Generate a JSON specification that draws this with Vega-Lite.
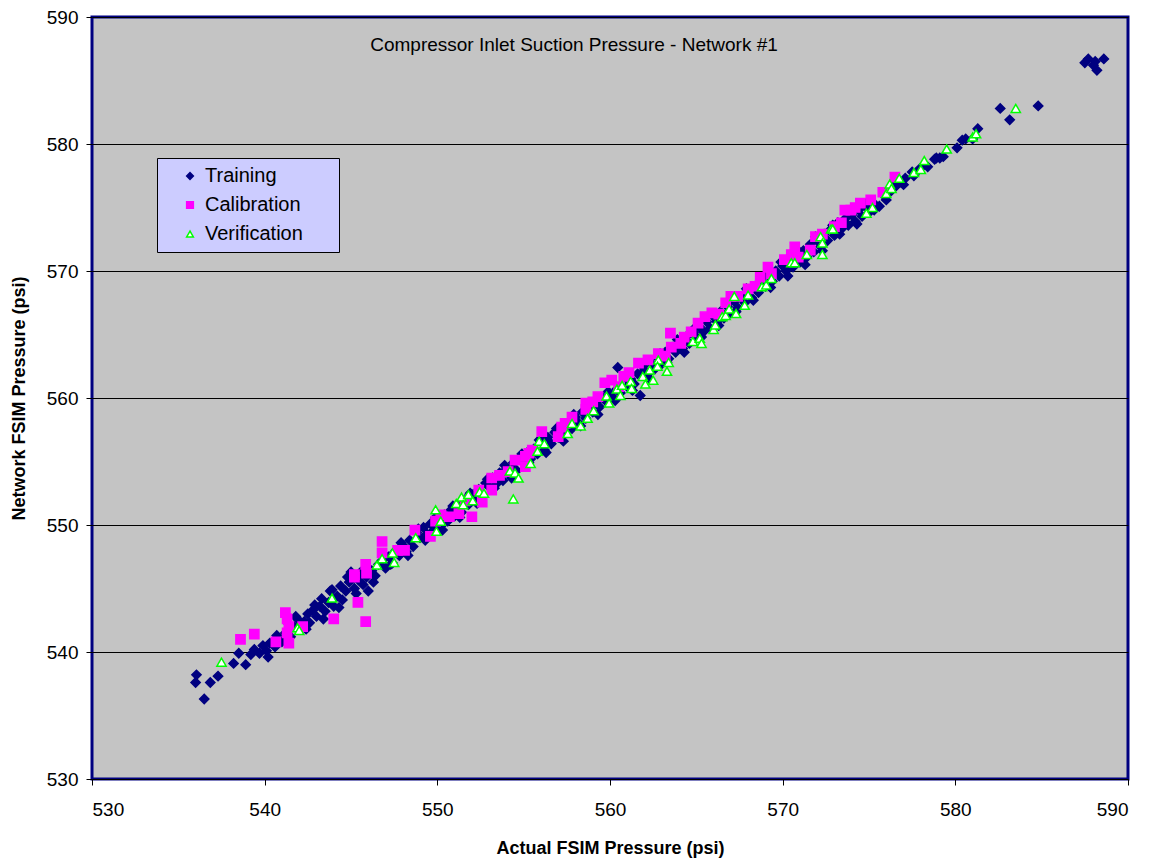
{
"$schema": "https://vega.github.io/schema/vega-lite/v6.json",
"autosize": "none",
"width": 1036,
"height": 762,
"padding": {"left": 92, "top": 17, "right": 21, "bottom": 82},
"background": "white",
"config": {
  "font": "Liberation Sans",
  "view": {"fill": "#C4C4C4", "stroke": "#000080", "strokeWidth": 3},
  "axis": {"labelFont": "Liberation Sans", "titleFont": "Liberation Sans", "labelColor": "#000", "titleColor": "#000", "tickColor": "#000", "domain": false}
},
"title": {"text": "Compressor Inlet Suction Pressure - Network #1", "font": "Liberation Sans", "fontSize": 19, "fontWeight": "normal", "color": "#000", "anchor": "middle", "frame": "group", "dx": -36, "dy": 51},
"data": {"values": [
{"x":536.0,"y":537.6,"s":"T"},{"x":536.05,"y":538.2,"s":"T"},{"x":536.5,"y":536.3,"s":"T"},{"x":536.85,"y":537.6,"s":"T"},{"x":537.3,"y":538.1,"s":"T"},{"x":538.2,"y":539.1,"s":"T"},{"x":538.5,"y":539.9,"s":"T"},{"x":538.9,"y":539.0,"s":"T"},{"x":539.2,"y":539.8,"s":"T"},{"x":539.4,"y":540.2,"s":"T"},{"x":539.7,"y":539.9,"s":"T"},{"x":539.9,"y":540.5,"s":"T"},{"x":540.1,"y":540.1,"s":"T"},{"x":540.2,"y":539.6,"s":"T"},{"x":540.3,"y":540.7,"s":"T"},{"x":540.6,"y":540.4,"s":"T"},{"x":540.7,"y":541.3,"s":"T"},{"x":540.8,"y":541.0,"s":"T"},{"x":541.0,"y":540.8,"s":"T"},{"x":541.2,"y":541.5,"s":"T"},{"x":541.3,"y":540.9,"s":"T"},{"x":541.4,"y":542.2,"s":"T"},{"x":541.5,"y":541.2,"s":"T"},{"x":541.7,"y":542.0,"s":"T"},{"x":541.8,"y":542.8,"s":"T"},{"x":541.9,"y":542.6,"s":"T"},{"x":542.1,"y":541.9,"s":"T"},{"x":542.3,"y":542.4,"s":"T"},{"x":542.4,"y":541.8,"s":"T"},{"x":542.5,"y":543.0,"s":"T"},{"x":542.6,"y":542.3,"s":"T"},{"x":542.8,"y":543.3,"s":"T"},{"x":542.9,"y":543.7,"s":"T"},{"x":543.0,"y":542.8,"s":"T"},{"x":543.2,"y":543.6,"s":"T"},{"x":543.3,"y":544.2,"s":"T"},{"x":543.4,"y":542.6,"s":"T"},{"x":543.5,"y":543.2,"s":"T"},{"x":543.7,"y":543.9,"s":"T"},{"x":543.8,"y":544.8,"s":"T"},{"x":543.9,"y":544.9,"s":"T"},{"x":544.0,"y":543.6,"s":"T"},{"x":544.2,"y":544.4,"s":"T"},{"x":544.3,"y":543.5,"s":"T"},{"x":544.4,"y":545.2,"s":"T"},{"x":544.5,"y":544.1,"s":"T"},{"x":544.7,"y":544.8,"s":"T"},{"x":544.8,"y":545.9,"s":"T"},{"x":544.9,"y":545.5,"s":"T"},{"x":545.0,"y":546.3,"s":"T"},{"x":545.2,"y":545.0,"s":"T"},{"x":545.3,"y":544.6,"s":"T"},{"x":545.4,"y":545.7,"s":"T"},{"x":545.5,"y":546.2,"s":"T"},{"x":545.7,"y":545.3,"s":"T"},{"x":545.8,"y":546.6,"s":"T"},{"x":545.9,"y":545.9,"s":"T"},{"x":546.0,"y":544.8,"s":"T"},{"x":546.2,"y":546.4,"s":"T"},{"x":546.3,"y":545.5,"s":"T"},{"x":546.4,"y":546.0,"s":"T"},{"x":546.6,"y":546.9,"s":"T"},{"x":546.8,"y":547.2,"s":"T"},{"x":546.9,"y":547.7,"s":"T"},{"x":547.0,"y":546.6,"s":"T"},{"x":547.2,"y":547.5,"s":"T"},{"x":547.3,"y":546.9,"s":"T"},{"x":547.4,"y":547.0,"s":"T"},{"x":547.6,"y":548.0,"s":"T"},{"x":547.8,"y":547.6,"s":"T"},{"x":547.9,"y":548.6,"s":"T"},{"x":548.0,"y":548.4,"s":"T"},{"x":548.2,"y":547.9,"s":"T"},{"x":548.3,"y":547.6,"s":"T"},{"x":548.4,"y":548.8,"s":"T"},{"x":548.6,"y":548.3,"s":"T"},{"x":548.8,"y":549.4,"s":"T"},{"x":548.9,"y":549.7,"s":"T"},{"x":549.0,"y":549.0,"s":"T"},{"x":549.2,"y":549.8,"s":"T"},{"x":549.3,"y":548.8,"s":"T"},{"x":549.4,"y":549.3,"s":"T"},{"x":549.6,"y":550.1,"s":"T"},{"x":549.8,"y":549.6,"s":"T"},{"x":549.9,"y":550.6,"s":"T"},{"x":550.0,"y":550.4,"s":"T"},{"x":550.2,"y":549.9,"s":"T"},{"x":550.3,"y":549.6,"s":"T"},{"x":550.4,"y":550.8,"s":"T"},{"x":550.6,"y":550.3,"s":"T"},{"x":550.8,"y":551.2,"s":"T"},{"x":550.9,"y":551.5,"s":"T"},{"x":551.0,"y":550.7,"s":"T"},{"x":551.2,"y":551.5,"s":"T"},{"x":551.3,"y":550.6,"s":"T"},{"x":551.4,"y":551.0,"s":"T"},{"x":551.6,"y":552.0,"s":"T"},{"x":551.8,"y":551.6,"s":"T"},{"x":551.9,"y":552.5,"s":"T"},{"x":552.0,"y":552.4,"s":"T"},{"x":552.2,"y":551.9,"s":"T"},{"x":552.3,"y":551.7,"s":"T"},{"x":552.4,"y":552.8,"s":"T"},{"x":552.6,"y":552.3,"s":"T"},{"x":552.8,"y":553.3,"s":"T"},{"x":552.9,"y":553.6,"s":"T"},{"x":553.0,"y":553.0,"s":"T"},{"x":553.2,"y":553.7,"s":"T"},{"x":553.3,"y":552.9,"s":"T"},{"x":553.4,"y":553.2,"s":"T"},{"x":553.6,"y":554.1,"s":"T"},{"x":553.8,"y":553.5,"s":"T"},{"x":553.9,"y":554.7,"s":"T"},{"x":554.0,"y":554.4,"s":"T"},{"x":554.2,"y":554.0,"s":"T"},{"x":554.3,"y":553.7,"s":"T"},{"x":554.4,"y":554.9,"s":"T"},{"x":554.6,"y":554.3,"s":"T"},{"x":554.8,"y":555.3,"s":"T"},{"x":554.9,"y":555.6,"s":"T"},{"x":555.0,"y":554.9,"s":"T"},{"x":555.2,"y":555.7,"s":"T"},{"x":555.3,"y":554.9,"s":"T"},{"x":555.4,"y":555.2,"s":"T"},{"x":555.6,"y":556.0,"s":"T"},{"x":555.8,"y":555.6,"s":"T"},{"x":555.9,"y":556.7,"s":"T"},{"x":556.0,"y":556.6,"s":"T"},{"x":556.2,"y":555.9,"s":"T"},{"x":556.3,"y":555.7,"s":"T"},{"x":556.4,"y":556.9,"s":"T"},{"x":556.6,"y":556.4,"s":"T"},{"x":556.8,"y":557.3,"s":"T"},{"x":556.9,"y":557.6,"s":"T"},{"x":557.0,"y":556.9,"s":"T"},{"x":557.2,"y":557.7,"s":"T"},{"x":557.3,"y":556.6,"s":"T"},{"x":557.4,"y":557.3,"s":"T"},{"x":557.6,"y":558.1,"s":"T"},{"x":557.8,"y":557.6,"s":"T"},{"x":557.9,"y":558.7,"s":"T"},{"x":558.0,"y":558.5,"s":"T"},{"x":558.2,"y":558.0,"s":"T"},{"x":558.3,"y":557.8,"s":"T"},{"x":558.4,"y":558.9,"s":"T"},{"x":558.6,"y":558.4,"s":"T"},{"x":558.8,"y":559.3,"s":"T"},{"x":558.9,"y":559.6,"s":"T"},{"x":559.0,"y":558.9,"s":"T"},{"x":559.2,"y":559.7,"s":"T"},{"x":559.3,"y":558.7,"s":"T"},{"x":559.4,"y":559.3,"s":"T"},{"x":559.6,"y":560.0,"s":"T"},{"x":559.8,"y":559.7,"s":"T"},{"x":559.9,"y":560.5,"s":"T"},{"x":560.0,"y":560.3,"s":"T"},{"x":560.2,"y":560.0,"s":"T"},{"x":560.3,"y":559.8,"s":"T"},{"x":560.4,"y":560.7,"s":"T"},{"x":560.45,"y":562.4,"s":"T"},{"x":560.6,"y":560.4,"s":"T"},{"x":560.9,"y":561.6,"s":"T"},{"x":561.0,"y":560.9,"s":"T"},{"x":561.2,"y":561.5,"s":"T"},{"x":561.3,"y":560.6,"s":"T"},{"x":561.4,"y":561.1,"s":"T"},{"x":561.6,"y":561.9,"s":"T"},{"x":561.75,"y":560.2,"s":"T"},{"x":561.9,"y":562.5,"s":"T"},{"x":562.0,"y":562.2,"s":"T"},{"x":562.2,"y":561.9,"s":"T"},{"x":562.3,"y":561.5,"s":"T"},{"x":562.4,"y":562.7,"s":"T"},{"x":562.6,"y":562.3,"s":"T"},{"x":562.8,"y":563.1,"s":"T"},{"x":562.9,"y":563.5,"s":"T"},{"x":563.0,"y":562.7,"s":"T"},{"x":563.2,"y":563.6,"s":"T"},{"x":563.3,"y":562.8,"s":"T"},{"x":563.4,"y":563.1,"s":"T"},{"x":563.6,"y":564.0,"s":"T"},{"x":563.8,"y":563.6,"s":"T"},{"x":563.9,"y":564.6,"s":"T"},{"x":564.0,"y":564.4,"s":"T"},{"x":564.2,"y":563.9,"s":"T"},{"x":564.3,"y":563.6,"s":"T"},{"x":564.4,"y":564.8,"s":"T"},{"x":564.6,"y":564.3,"s":"T"},{"x":564.8,"y":565.2,"s":"T"},{"x":564.9,"y":565.5,"s":"T"},{"x":565.0,"y":564.8,"s":"T"},{"x":565.2,"y":565.6,"s":"T"},{"x":565.3,"y":564.8,"s":"T"},{"x":565.4,"y":565.2,"s":"T"},{"x":565.6,"y":566.0,"s":"T"},{"x":565.8,"y":565.5,"s":"T"},{"x":565.9,"y":566.6,"s":"T"},{"x":566.0,"y":566.4,"s":"T"},{"x":566.2,"y":566.0,"s":"T"},{"x":566.3,"y":565.7,"s":"T"},{"x":566.4,"y":566.8,"s":"T"},{"x":566.6,"y":566.3,"s":"T"},{"x":566.8,"y":567.2,"s":"T"},{"x":566.9,"y":567.6,"s":"T"},{"x":567.0,"y":566.7,"s":"T"},{"x":567.2,"y":567.6,"s":"T"},{"x":567.3,"y":566.8,"s":"T"},{"x":567.4,"y":567.1,"s":"T"},{"x":567.6,"y":568.0,"s":"T"},{"x":567.8,"y":567.5,"s":"T"},{"x":567.9,"y":568.6,"s":"T"},{"x":568.0,"y":568.4,"s":"T"},{"x":568.2,"y":567.9,"s":"T"},{"x":568.3,"y":567.7,"s":"T"},{"x":568.4,"y":568.8,"s":"T"},{"x":568.6,"y":568.3,"s":"T"},{"x":568.8,"y":569.2,"s":"T"},{"x":568.9,"y":569.6,"s":"T"},{"x":569.0,"y":568.8,"s":"T"},{"x":569.2,"y":569.6,"s":"T"},{"x":569.3,"y":568.7,"s":"T"},{"x":569.4,"y":569.2,"s":"T"},{"x":569.6,"y":570.0,"s":"T"},{"x":569.8,"y":569.6,"s":"T"},{"x":569.9,"y":570.7,"s":"T"},{"x":570.0,"y":570.4,"s":"T"},{"x":570.2,"y":570.0,"s":"T"},{"x":570.3,"y":569.6,"s":"T"},{"x":570.4,"y":570.8,"s":"T"},{"x":570.6,"y":570.3,"s":"T"},{"x":570.8,"y":571.2,"s":"T"},{"x":570.9,"y":571.6,"s":"T"},{"x":571.0,"y":570.7,"s":"T"},{"x":571.2,"y":571.6,"s":"T"},{"x":571.3,"y":570.5,"s":"T"},{"x":571.4,"y":571.1,"s":"T"},{"x":571.6,"y":572.1,"s":"T"},{"x":571.8,"y":571.5,"s":"T"},{"x":571.9,"y":572.7,"s":"T"},{"x":572.0,"y":572.4,"s":"T"},{"x":572.2,"y":571.9,"s":"T"},{"x":572.3,"y":571.6,"s":"T"},{"x":572.4,"y":572.9,"s":"T"},{"x":572.6,"y":572.4,"s":"T"},{"x":572.8,"y":573.3,"s":"T"},{"x":572.9,"y":573.6,"s":"T"},{"x":573.0,"y":572.8,"s":"T"},{"x":573.2,"y":573.8,"s":"T"},{"x":573.3,"y":572.9,"s":"T"},{"x":573.4,"y":573.3,"s":"T"},{"x":573.6,"y":574.1,"s":"T"},{"x":573.8,"y":573.6,"s":"T"},{"x":573.9,"y":574.5,"s":"T"},{"x":574.0,"y":574.4,"s":"T"},{"x":574.2,"y":573.9,"s":"T"},{"x":574.3,"y":573.7,"s":"T"},{"x":574.4,"y":574.8,"s":"T"},{"x":574.6,"y":574.3,"s":"T"},{"x":574.8,"y":575.1,"s":"T"},{"x":574.9,"y":575.4,"s":"T"},{"x":575.0,"y":574.6,"s":"T"},{"x":575.3,"y":575.3,"s":"T"},{"x":575.3,"y":574.8,"s":"T"},{"x":575.6,"y":575.1,"s":"T"},{"x":575.9,"y":575.9,"s":"T"},{"x":576.0,"y":575.6,"s":"T"},{"x":576.2,"y":576.2,"s":"T"},{"x":576.4,"y":576.9,"s":"T"},{"x":576.5,"y":576.6,"s":"T"},{"x":576.8,"y":577.0,"s":"T"},{"x":577.0,"y":576.8,"s":"T"},{"x":577.1,"y":577.3,"s":"T"},{"x":577.5,"y":577.8,"s":"T"},{"x":577.6,"y":577.5,"s":"T"},{"x":577.9,"y":578.0,"s":"T"},{"x":578.2,"y":578.4,"s":"T"},{"x":578.4,"y":578.2,"s":"T"},{"x":578.8,"y":578.8,"s":"T"},{"x":578.9,"y":578.9,"s":"T"},{"x":579.1,"y":578.9,"s":"T"},{"x":579.3,"y":579.0,"s":"T"},{"x":580.1,"y":579.7,"s":"T"},{"x":580.4,"y":580.3,"s":"T"},{"x":580.6,"y":580.4,"s":"T"},{"x":581.0,"y":580.4,"s":"T"},{"x":581.3,"y":581.2,"s":"T"},{"x":582.6,"y":582.8,"s":"T"},{"x":583.15,"y":581.9,"s":"T"},{"x":584.8,"y":583.0,"s":"T"},{"x":587.5,"y":586.4,"s":"T"},{"x":587.7,"y":586.7,"s":"T"},{"x":588.0,"y":586.2,"s":"T"},{"x":588.2,"y":585.8,"s":"T"},{"x":588.6,"y":586.7,"s":"T"},{"x":588.1,"y":586.5,"s":"T"},
{"x":538.6,"y":541.0,"s":"C"},{"x":539.4,"y":541.4,"s":"C"},{"x":540.65,"y":540.8,"s":"C"},{"x":541.2,"y":543.1,"s":"C"},{"x":541.3,"y":542.6,"s":"C"},{"x":541.4,"y":542.0,"s":"C"},{"x":541.3,"y":541.5,"s":"C"},{"x":541.4,"y":540.7,"s":"C"},{"x":542.2,"y":542.0,"s":"C"},{"x":544.0,"y":542.6,"s":"C"},{"x":545.4,"y":543.9,"s":"C"},{"x":545.85,"y":542.4,"s":"C"},{"x":545.2,"y":546.1,"s":"C"},{"x":545.2,"y":545.9,"s":"C"},{"x":545.85,"y":546.9,"s":"C"},{"x":545.9,"y":546.2,"s":"C"},{"x":546.8,"y":548.7,"s":"C"},{"x":546.8,"y":547.8,"s":"C"},{"x":547.7,"y":548.0,"s":"C"},{"x":548.1,"y":548.0,"s":"C"},{"x":548.7,"y":549.6,"s":"C"},{"x":549.6,"y":549.1,"s":"C"},{"x":549.9,"y":550.3,"s":"C"},{"x":550.2,"y":550.8,"s":"C"},{"x":550.7,"y":550.65,"s":"C"},{"x":551.25,"y":550.9,"s":"C"},{"x":551.6,"y":551.9,"s":"C"},{"x":552.0,"y":550.65,"s":"C"},{"x":552.4,"y":552.75,"s":"C"},{"x":552.6,"y":551.8,"s":"C"},{"x":553.15,"y":553.7,"s":"C"},{"x":553.15,"y":552.75,"s":"C"},{"x":553.6,"y":553.9,"s":"C"},{"x":554.1,"y":554.2,"s":"C"},{"x":554.5,"y":555.1,"s":"C"},{"x":555.1,"y":554.6,"s":"C"},{"x":555.1,"y":555.4,"s":"C"},{"x":555.3,"y":555.65,"s":"C"},{"x":555.5,"y":555.9,"s":"C"},{"x":556.05,"y":557.35,"s":"C"},{"x":557.0,"y":556.95,"s":"C"},{"x":557.2,"y":557.7,"s":"C"},{"x":557.4,"y":558.0,"s":"C"},{"x":557.8,"y":558.5,"s":"C"},{"x":558.6,"y":559.6,"s":"C"},{"x":558.6,"y":559.1,"s":"C"},{"x":559.0,"y":559.7,"s":"C"},{"x":559.3,"y":560.1,"s":"C"},{"x":559.7,"y":561.2,"s":"C"},{"x":560.1,"y":561.4,"s":"C"},{"x":560.5,"y":560.9,"s":"C"},{"x":560.8,"y":561.7,"s":"C"},{"x":561.1,"y":562.0,"s":"C"},{"x":561.65,"y":562.75,"s":"C"},{"x":562.2,"y":563.0,"s":"C"},{"x":562.8,"y":563.5,"s":"C"},{"x":563.2,"y":563.3,"s":"C"},{"x":563.5,"y":565.1,"s":"C"},{"x":563.55,"y":564.0,"s":"C"},{"x":564.1,"y":564.3,"s":"C"},{"x":564.3,"y":564.8,"s":"C"},{"x":564.7,"y":565.2,"s":"C"},{"x":565.1,"y":565.9,"s":"C"},{"x":565.5,"y":566.4,"s":"C"},{"x":565.9,"y":566.7,"s":"C"},{"x":566.3,"y":566.6,"s":"C"},{"x":566.7,"y":567.5,"s":"C"},{"x":567.0,"y":568.0,"s":"C"},{"x":567.4,"y":568.0,"s":"C"},{"x":568.0,"y":568.6,"s":"C"},{"x":568.4,"y":568.8,"s":"C"},{"x":568.7,"y":569.5,"s":"C"},{"x":569.15,"y":570.3,"s":"C"},{"x":569.35,"y":569.8,"s":"C"},{"x":570.1,"y":570.9,"s":"C"},{"x":570.5,"y":571.3,"s":"C"},{"x":570.7,"y":571.9,"s":"C"},{"x":570.9,"y":571.1,"s":"C"},{"x":571.6,"y":571.65,"s":"C"},{"x":571.9,"y":572.7,"s":"C"},{"x":572.3,"y":572.9,"s":"C"},{"x":573.0,"y":573.5,"s":"C"},{"x":573.4,"y":573.8,"s":"C"},{"x":573.6,"y":574.8,"s":"C"},{"x":573.95,"y":574.8,"s":"C"},{"x":574.2,"y":575.0,"s":"C"},{"x":574.5,"y":575.35,"s":"C"},{"x":575.1,"y":575.6,"s":"C"},{"x":575.8,"y":576.2,"s":"C"},{"x":576.5,"y":577.4,"s":"C"},
{"x":537.5,"y":539.2,"s":"V"},{"x":541.9,"y":541.9,"s":"V"},{"x":542.0,"y":541.7,"s":"V"},{"x":543.9,"y":544.25,"s":"V"},{"x":546.5,"y":546.85,"s":"V"},{"x":546.8,"y":547.35,"s":"V"},{"x":547.4,"y":547.8,"s":"V"},{"x":547.5,"y":547.05,"s":"V"},{"x":548.75,"y":549.0,"s":"V"},{"x":549.9,"y":551.2,"s":"V"},{"x":549.95,"y":549.5,"s":"V"},{"x":550.2,"y":550.3,"s":"V"},{"x":551.1,"y":551.7,"s":"V"},{"x":551.4,"y":552.2,"s":"V"},{"x":551.5,"y":551.6,"s":"V"},{"x":551.8,"y":552.4,"s":"V"},{"x":552.05,"y":551.9,"s":"V"},{"x":552.45,"y":552.6,"s":"V"},{"x":552.7,"y":552.5,"s":"V"},{"x":554.4,"y":552.05,"s":"V"},{"x":554.2,"y":554.25,"s":"V"},{"x":554.5,"y":554.1,"s":"V"},{"x":554.7,"y":553.7,"s":"V"},{"x":555.4,"y":554.85,"s":"V"},{"x":555.8,"y":555.8,"s":"V"},{"x":555.9,"y":556.6,"s":"V"},{"x":556.2,"y":556.4,"s":"V"},{"x":557.55,"y":557.2,"s":"V"},{"x":557.8,"y":558.0,"s":"V"},{"x":558.3,"y":557.8,"s":"V"},{"x":558.7,"y":558.4,"s":"V"},{"x":559.05,"y":559.0,"s":"V"},{"x":559.8,"y":560.15,"s":"V"},{"x":559.95,"y":559.6,"s":"V"},{"x":560.4,"y":560.7,"s":"V"},{"x":560.6,"y":560.2,"s":"V"},{"x":560.7,"y":561.0,"s":"V"},{"x":561.2,"y":561.3,"s":"V"},{"x":561.25,"y":560.75,"s":"V"},{"x":561.9,"y":561.7,"s":"V"},{"x":562.05,"y":561.1,"s":"V"},{"x":562.3,"y":562.2,"s":"V"},{"x":562.5,"y":561.4,"s":"V"},{"x":562.8,"y":563.0,"s":"V"},{"x":562.75,"y":562.5,"s":"V"},{"x":563.3,"y":562.1,"s":"V"},{"x":563.4,"y":562.8,"s":"V"},{"x":564.8,"y":564.45,"s":"V"},{"x":565.2,"y":564.7,"s":"V"},{"x":565.3,"y":564.3,"s":"V"},{"x":566.0,"y":565.4,"s":"V"},{"x":566.1,"y":565.75,"s":"V"},{"x":566.5,"y":566.4,"s":"V"},{"x":566.7,"y":566.5,"s":"V"},{"x":566.9,"y":567.0,"s":"V"},{"x":567.3,"y":566.65,"s":"V"},{"x":567.2,"y":568.0,"s":"V"},{"x":567.8,"y":567.3,"s":"V"},{"x":568.0,"y":568.1,"s":"V"},{"x":568.8,"y":568.75,"s":"V"},{"x":569.05,"y":568.9,"s":"V"},{"x":569.35,"y":569.4,"s":"V"},{"x":570.5,"y":570.65,"s":"V"},{"x":570.7,"y":570.65,"s":"V"},{"x":571.4,"y":571.3,"s":"V"},{"x":572.3,"y":571.3,"s":"V"},{"x":572.2,"y":572.7,"s":"V"},{"x":572.3,"y":572.2,"s":"V"},{"x":572.8,"y":573.3,"s":"V"},{"x":572.9,"y":573.3,"s":"V"},{"x":574.85,"y":574.55,"s":"V"},{"x":575.2,"y":575.0,"s":"V"},{"x":576.0,"y":576.1,"s":"V"},{"x":576.2,"y":576.85,"s":"V"},{"x":576.3,"y":576.5,"s":"V"},{"x":576.75,"y":577.3,"s":"V"},{"x":577.6,"y":577.75,"s":"V"},{"x":578.0,"y":578.0,"s":"V"},{"x":578.2,"y":578.7,"s":"V"},{"x":579.5,"y":579.6,"s":"V"},{"x":581.0,"y":580.55,"s":"V"},{"x":581.2,"y":580.8,"s":"V"},{"x":583.5,"y":582.8,"s":"V"}
]},
"mark": {"type": "point", "filled": true, "opacity": 1, "strokeWidth": 1.5, "size": 85},
"encoding": {
  "x": {"field": "x", "type": "quantitative", "scale": {"domain": [530, 590], "nice": false, "zero": false},
    "axis": {"values": [530, 540, 550, 560, 570, 580, 590], "grid": false, "tickSize": 6, "labelFontSize": 19, "labelPadding": 15, "title": "Actual FSIM Pressure (psi)", "titleFontSize": 18, "titleFontWeight": "bold", "titlePadding": 20}},
  "y": {"field": "y", "type": "quantitative", "scale": {"domain": [530, 590], "nice": false, "zero": false},
    "axis": {"values": [530, 540, 550, 560, 570, 580, 590], "grid": true, "gridColor": "#000", "gridWidth": 1, "gridOpacity": 1, "tickSize": 6, "labelFontSize": 19, "labelPadding": 8, "title": "Network FSIM Pressure (psi)", "titleFontSize": 18, "titleFontWeight": "bold", "titlePadding": 18}},
  "fill": {"field": "s", "type": "nominal", "scale": {"domain": ["T", "C", "V"], "range": ["#000080", "#FF00FF", "#FFFFFF"]},
    "legend": {"title": ".", "titleOrient": "right", "titlePadding": 26, "titleFontSize": 4, "titleColor": "#CCCCFF", "orient": "none", "legendX": 65, "legendY": 141, "fillColor": "#CCCCFF", "strokeColor": "#000", "padding": 8, "labelFontSize": 20, "labelFont": "Liberation Sans", "labelColor": "#000", "symbolSize": 45, "symbolOffset": 15, "labelOffset": 5, "rowPadding": 9,
      "labelExpr": "datum.label == 'T' ? 'Training' : datum.label == 'C' ? 'Calibration' : 'Verification'"}},
  "stroke": {"field": "s", "type": "nominal", "scale": {"domain": ["T", "C", "V"], "range": ["#000080", "#FF00FF", "#00FF00"]}},
  "shape": {"field": "s", "type": "nominal", "scale": {"domain": ["T", "C", "V"], "range": ["diamond", "square", "triangle-up"]}}
}
}
